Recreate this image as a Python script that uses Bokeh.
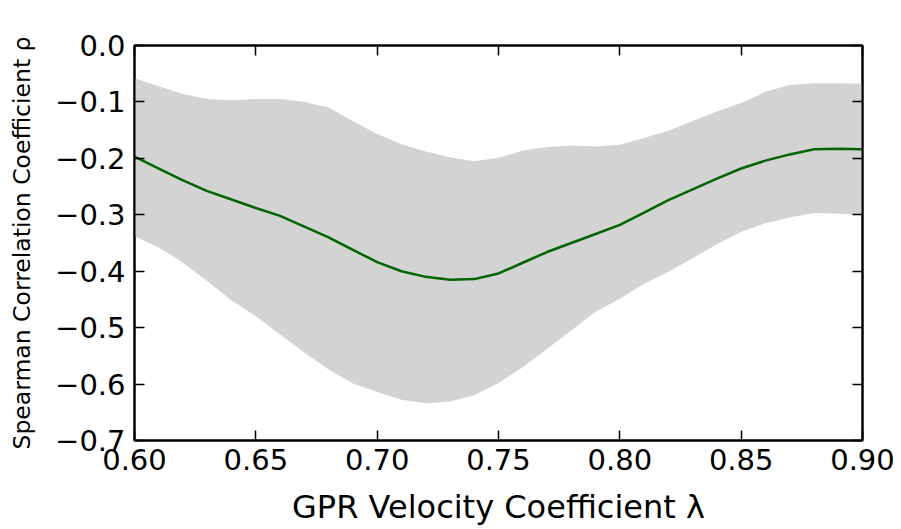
from bokeh.plotting import figure
from bokeh.models import LinearAxis, FixedTicker, CustomJSTickFormatter, Range1d
from bokeh.embed import file_html
from bokeh.resources import INLINE

# GPR velocity coefficient lambda
lam = [0.60, 0.61, 0.62, 0.63, 0.64, 0.65, 0.66, 0.67, 0.68, 0.69, 0.70,
       0.71, 0.72, 0.73, 0.74, 0.75, 0.76, 0.77, 0.78, 0.79, 0.80,
       0.81, 0.82, 0.83, 0.84, 0.85, 0.86, 0.87, 0.88, 0.89, 0.90]
# mean Spearman rho
rho_mean = [-0.197, -0.218, -0.239, -0.258, -0.273, -0.288, -0.302, -0.321, -0.340, -0.362, -0.384,
            -0.400, -0.410, -0.415, -0.414, -0.404, -0.385, -0.366, -0.350, -0.334, -0.318,
            -0.296, -0.274, -0.255, -0.236, -0.218, -0.204, -0.193, -0.184, -0.183, -0.184]
# upper envelope
rho_upper = [-0.058, -0.072, -0.086, -0.095, -0.097, -0.095, -0.095, -0.100, -0.110, -0.134, -0.157,
             -0.175, -0.188, -0.198, -0.205, -0.199, -0.186, -0.180, -0.177, -0.179, -0.176,
             -0.164, -0.151, -0.134, -0.117, -0.102, -0.082, -0.070, -0.067, -0.067, -0.068]
# lower envelope
rho_lower = [-0.338, -0.358, -0.385, -0.418, -0.452, -0.480, -0.512, -0.544, -0.574, -0.599, -0.614,
             -0.628, -0.634, -0.631, -0.620, -0.598, -0.570, -0.538, -0.505, -0.472, -0.449,
             -0.422, -0.401, -0.377, -0.352, -0.330, -0.315, -0.305, -0.297, -0.298, -0.300]

x_ticks = [0.60, 0.65, 0.70, 0.75, 0.80, 0.85, 0.90]
y_ticks = [-0.7, -0.6, -0.5, -0.4, -0.3, -0.2, -0.1, 0.0]

FONT = "DejaVu Sans"

p = figure(width=901, height=529, output_backend="svg", toolbar_location=None,
           x_range=Range1d(0.6, 0.9), y_range=Range1d(-0.7, 0.0),
           min_border_left=134, min_border_right=39, min_border_top=45, min_border_bottom=89)
p.xgrid.visible = False
p.ygrid.visible = False
p.outline_line_color = "black"
p.outline_line_width = 2
p.background_fill_color = "white"
p.border_fill_color = "white"

p.varea(x=lam, y1=rho_lower, y2=rho_upper, fill_color="#d3d3d3", fill_alpha=1.0)
p.line(x=lam, y=rho_mean, line_color="#006400", line_width=2.5)

xfmt = CustomJSTickFormatter(code="return (tick < 0 ? '\u2212' : '') + Math.abs(tick).toFixed(2);")
yfmt = CustomJSTickFormatter(code="return (Math.abs(tick) < 1e-9 ? '0.0' : (tick < 0 ? '\u2212' : '') + Math.abs(tick).toFixed(1));")
blank = CustomJSTickFormatter(code="return '';")

xa = p.xaxis[0]
xa.ticker = FixedTicker(ticks=x_ticks)
ya = p.yaxis[0]
ya.ticker = FixedTicker(ticks=y_ticks)
for ax, fmt in ((xa, xfmt), (ya, yfmt)):
    ax.formatter = fmt
    ax.major_tick_in = 10
    ax.major_tick_out = 0
    ax.minor_tick_line_color = None
    ax.major_tick_line_color = "black"
    ax.major_tick_line_width = 1.5
    ax.axis_line_color = "black"
    ax.axis_line_width = 2
    ax.major_label_text_font = FONT
    ax.major_label_text_font_size = "29px"
    ax.major_label_text_color = "black"
    ax.axis_label_text_font = FONT
    ax.axis_label_text_font_style = "normal"
    ax.axis_label_text_color = "black"

xa.axis_label = "GPR Velocity Coefficient λ"
xa.axis_label_text_font_size = "32px"
xa.major_label_standoff = 8
xa.axis_label_standoff = 15
ya.axis_label = "Spearman Correlation Coefficient ρ"
ya.axis_label_text_font_size = "23.5px"
ya.major_label_standoff = 9
ya.axis_label_standoff = 16

top = LinearAxis(ticker=FixedTicker(ticks=x_ticks), formatter=blank)
right = LinearAxis(ticker=FixedTicker(ticks=y_ticks), formatter=blank)
for ax in (top, right):
    ax.major_tick_in = 10
    ax.major_tick_out = 0
    ax.minor_tick_line_color = None
    ax.major_tick_line_color = "black"
    ax.major_tick_line_width = 1.5
    ax.axis_line_color = "black"
    ax.axis_line_width = 2
    ax.major_label_text_font_size = "1px"
    ax.major_label_standoff = 0
p.add_layout(top, "above")
p.add_layout(right, "right")

open("out.html", "w").write(file_html(p, INLINE))
